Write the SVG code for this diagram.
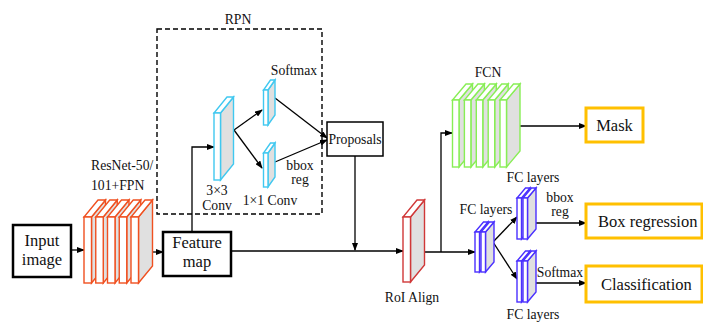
<svg xmlns="http://www.w3.org/2000/svg" width="703" height="322" viewBox="0 0 703 322">
<defs>
<marker id="ah" markerWidth="8" markerHeight="6" refX="7" refY="3" orient="auto" markerUnits="userSpaceOnUse">
<path d="M0,0 L8,3 L0,6 Z" fill="#000"/>
</marker>
<style>
text{font-family:"Liberation Serif","Times New Roman",serif;fill:#111;}
.s{font-size:13.7px;}
.m{font-size:16.5px;}
.c{text-anchor:middle;}
.box{fill:#fff;stroke:#000;stroke-width:2.5;}
.gbox{fill:#fff;stroke:#ffc000;stroke-width:3;}
.conn{fill:none;stroke:#000;stroke-width:1.3;marker-end:url(#ah);}
.side{fill:#e0e0e0;}
.face{fill:#fff;}
.or *{stroke:#f05020;stroke-width:1.4;}
.cy *{stroke:#40c8f0;stroke-width:1.4;}
.rd *{stroke:#d03838;stroke-width:1.4;}
.gr *{stroke:#88ee55;stroke-width:1.4;}
.bl *{stroke:#4a30ff;stroke-width:1.4;}
</style>
</defs>
<rect width="703" height="322" fill="#fff"/>

<!-- RPN dashed region -->
<g id="rpn">
<rect x="157" y="29" width="165" height="185" fill="none" stroke="#000" stroke-width="1.4" stroke-dasharray="5,3"/>
<text class="s c" x="238" y="24">RPN</text>
</g>

<g id="connectors">
<line class="conn" x1="71" y1="250" x2="84" y2="250"/>
<line class="conn" x1="148" y1="252" x2="163" y2="252"/>
<line class="conn" x1="231" y1="251" x2="403" y2="251"/>
<path class="conn" d="M192,232 V147 H214"/>
<line class="conn" x1="234" y1="130" x2="262" y2="110"/>
<line class="conn" x1="234" y1="130" x2="262" y2="168"/>
<line class="conn" x1="275" y1="98" x2="327" y2="138"/>
<line class="conn" x1="275" y1="162" x2="327" y2="140"/>
<line class="conn" x1="355" y1="156" x2="355" y2="250"/>
<line class="conn" x1="417" y1="252" x2="475" y2="252"/>
<path class="conn" d="M441,252 V133 H452"/>
<line class="conn" x1="517" y1="126" x2="586" y2="126"/>
<line class="conn" x1="493" y1="242" x2="517" y2="217"/>
<line class="conn" x1="493" y1="242" x2="517" y2="279"/>
<line class="conn" x1="535" y1="223" x2="586" y2="223"/>
<line class="conn" x1="535" y1="283" x2="586" y2="283"/>
</g>

<g id="input-image">
<rect class="box" x="13" y="225" width="58" height="52"/>
<text class="m c" x="42" y="246">Input</text>
<text class="m c" x="42" y="265">image</text>
</g>

<g id="resnet" class="or">
<polygon class="side" points="91.5,217 105.5,200 105.5,266 91.5,283"/>
<polygon class="face" points="84,217 91.5,217 105.5,200 98,200"/>
<rect class="face" x="84" y="217" width="7.5" height="66"/>
<polygon class="side" points="103.25,217 117.25,200 117.25,266 103.25,283"/>
<polygon class="face" points="95.75,217 103.25,217 117.25,200 109.75,200"/>
<rect class="face" x="95.75" y="217" width="7.5" height="66"/>
<polygon class="side" points="115,217 129,200 129,266 115,283"/>
<polygon class="face" points="107.5,217 115,217 129,200 121.5,200"/>
<rect class="face" x="107.5" y="217" width="7.5" height="66"/>
<polygon class="side" points="126.75,217 140.75,200 140.75,266 126.75,283"/>
<polygon class="face" points="119.25,217 126.75,217 140.75,200 133.25,200"/>
<rect class="face" x="119.25" y="217" width="7.5" height="66"/>
<polygon class="side" points="138.5,217 152.5,200 152.5,266 138.5,283"/>
<polygon class="face" points="131,217 138.5,217 152.5,200 145,200"/>
<rect class="face" x="131" y="217" width="7.5" height="66"/>
</g>
<g id="resnet-label">
<text class="s" x="91" y="170">ResNet-50/</text>
<text class="s" x="91" y="190">101+FPN</text>
</g>

<g id="feature-map">
<rect class="box" x="163" y="232" width="68" height="44"/>
<text class="m c" x="197" y="248">Feature</text>
<text class="m c" x="197" y="267">map</text>
</g>

<g id="conv3x3" class="cy">
<polygon class="side" points="220.5,113 233.5,97 233.5,164 220.5,180"/>
<polygon class="face" points="214,113 220.5,113 233.5,97 227,97"/>
<rect class="face" x="214" y="113" width="6.5" height="67"/>
</g>
<g id="conv3x3-label">
<text class="s c" x="217" y="195">3×3</text>
<text class="s c" x="217" y="210">Conv</text>
</g>

<g id="conv1x1-softmax" class="cy">
<polygon class="side" points="268,90 275,80 275,115 268,125"/>
<polygon class="face" points="263.5,90 268,90 275,80 270.5,80"/>
<rect class="face" x="263.5" y="90" width="4.5" height="35"/>
</g>
<g id="conv1x1-bbox" class="cy">
<polygon class="side" points="268,153 275,143 275,177 268,187"/>
<polygon class="face" points="263.5,153 268,153 275,143 270.5,143"/>
<rect class="face" x="263.5" y="153" width="4.5" height="34"/>
</g>
<g id="rpn-labels">
<text class="s c" x="294" y="75">Softmax</text>
<text class="s c" x="300" y="170">bbox</text>
<text class="s c" x="300" y="184">reg</text>
<text class="s c" x="270" y="205">1×1 Conv</text>
</g>

<g id="proposals">
<rect x="327" y="122" width="56" height="34" fill="#fff" stroke="#000" stroke-width="1.5"/>
<text class="s c" x="355" y="144">Proposals</text>
</g>

<g id="roi-align" class="rd">
<polygon class="side" points="410.5,217 424.5,200 424.5,265 410.5,282"/>
<polygon class="face" points="403,217 410.5,217 424.5,200 417,200"/>
<rect class="face" x="403" y="217" width="7.5" height="65"/>
</g>
<text id="roi-label" class="s c" x="412" y="302">RoI Align</text>

<g id="fcn" class="gr">
<polygon class="side" points="459,100 472.5,84 472.5,151 459,167"/>
<polygon class="face" points="452.5,100 459,100 472.5,84 466,84"/>
<rect class="face" x="452.5" y="100" width="6.5" height="67"/>
<polygon class="side" points="470.9,100 484.4,84 484.4,151 470.9,167"/>
<polygon class="face" points="464.4,100 470.9,100 484.4,84 477.9,84"/>
<rect class="face" x="464.4" y="100" width="6.5" height="67"/>
<polygon class="side" points="482.8,100 496.3,84 496.3,151 482.8,167"/>
<polygon class="face" points="476.3,100 482.8,100 496.3,84 489.8,84"/>
<rect class="face" x="476.3" y="100" width="6.5" height="67"/>
<polygon class="side" points="494.7,100 508.2,84 508.2,151 494.7,167"/>
<polygon class="face" points="488.2,100 494.7,100 508.2,84 501.7,84"/>
<rect class="face" x="488.2" y="100" width="6.5" height="67"/>
<polygon class="side" points="506.5,100 520,84 520,151 506.5,167"/>
<polygon class="face" points="500,100 506.5,100 520,84 513.5,84"/>
<rect class="face" x="500" y="100" width="6.5" height="67"/>
</g>
<text id="fcn-label" class="s c" x="488" y="77">FCN</text>

<g id="fc-mid" class="bl">
<polygon class="side" points="479.5,232 488,222 488,262 479.5,272"/>
<polygon class="face" points="475,232 479.5,232 488,222 483.5,222"/>
<rect class="face" x="475" y="232" width="4.5" height="40"/>
<polygon class="side" points="485.5,232 494,222 494,262 485.5,272"/>
<polygon class="face" points="481,232 485.5,232 494,222 489.5,222"/>
<rect class="face" x="481" y="232" width="4.5" height="40"/>
</g>
<text id="fc-mid-label" class="s c" x="486" y="214">FC layers</text>

<g id="fc-up" class="bl">
<polygon class="side" points="521.5,198 530,188 530,229 521.5,239"/>
<polygon class="face" points="517,198 521.5,198 530,188 525.5,188"/>
<rect class="face" x="517" y="198" width="4.5" height="41"/>
<polygon class="side" points="527.5,198 536,188 536,229 527.5,239"/>
<polygon class="face" points="523,198 527.5,198 536,188 531.5,188"/>
<rect class="face" x="523" y="198" width="4.5" height="41"/>
</g>
<g id="fc-up-labels">
<text class="s c" x="533" y="182">FC layers</text>
<text class="s c" x="560" y="202">bbox</text>
<text class="s c" x="560" y="216">reg</text>
</g>

<g id="fc-low" class="bl">
<polygon class="side" points="521.5,261 530,251 530,292 521.5,302"/>
<polygon class="face" points="517,261 521.5,261 530,251 525.5,251"/>
<rect class="face" x="517" y="261" width="4.5" height="41"/>
<polygon class="side" points="527.5,261 536,251 536,292 527.5,302"/>
<polygon class="face" points="523,261 527.5,261 536,251 531.5,251"/>
<rect class="face" x="523" y="261" width="4.5" height="41"/>
</g>
<g id="fc-low-labels">
<text class="s c" x="560" y="277">Softmax</text>
<text class="s c" x="533" y="319">FC layers</text>
</g>

<g id="mask">
<rect class="gbox" x="586" y="108" width="57" height="34"/>
<text class="m c" x="614.5" y="131">Mask</text>
</g>
<g id="box-regression">
<rect class="gbox" x="586" y="204" width="116" height="34"/>
<text class="m" x="598" y="227">Box regression</text>
</g>
<g id="classification">
<rect class="gbox" x="586" y="266" width="116" height="36"/>
<text class="m" x="601" y="290">Classification</text>
</g>
</svg>
